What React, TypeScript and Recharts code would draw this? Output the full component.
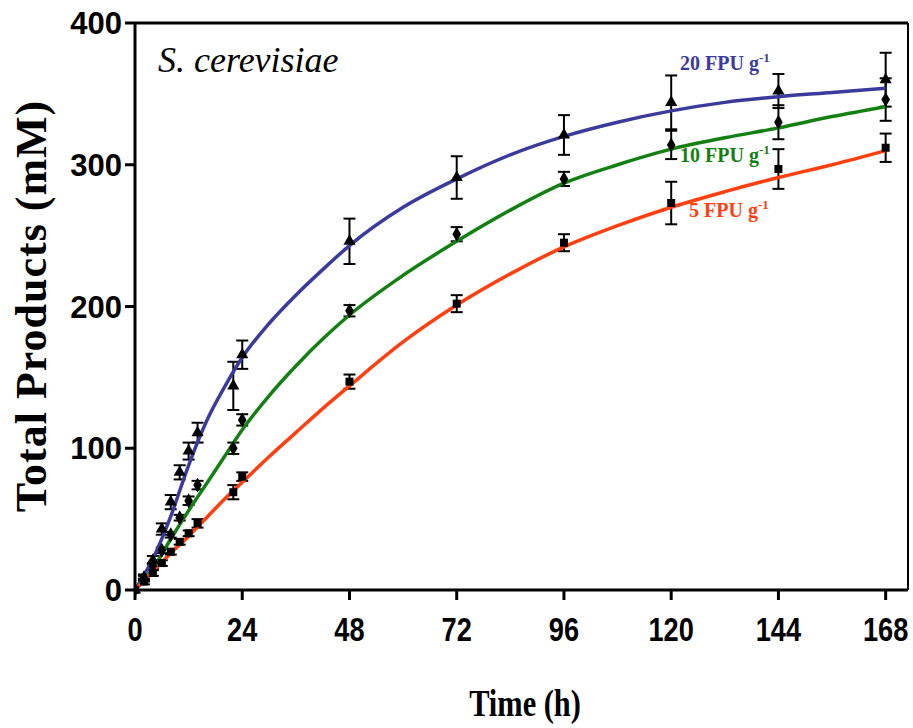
import {
	ComposedChart,
	Line,
	Scatter,
	ErrorBar,
	XAxis,
	YAxis,
	ReferenceLine,
	Customized,
} from "recharts";

// sampling times (h) of the measured points
const hours = [0, 2, 4, 6, 8, 10, 12, 14, 22, 24, 48, 72, 96, 120, 144, 168];

// measured total products (mM) and std. deviations
const fpu20 = [0, 9, 21, 43, 62, 83, 98, 111, 144, 166, 246, 291, 321, 344, 352, 360];
const fpu20Err = [0, 2, 3, 4, 5, 5, 6, 7, 17, 10, 16, 15, 14, 19, 12, 19];
const fpu10 = [0, 8, 17, 28, 39, 51, 63, 74, 100, 120, 197, 251, 290, 314, 330, 346];
const fpu10Err = [0, 2, 2, 2, 2, 2, 3, 3, 4, 4, 4, 5, 5, 10, 12, 15];
const fpu5 = [0, 6, 12, 19, 27, 34, 40, 47, 69, 80, 147, 202, 245, 273, 297, 312];
const fpu5Err = [0, 2, 2, 2, 2, 2, 2, 3, 5, 3, 5, 6, 6, 15, 14, 10];

// fitted curves
const fitHours = [0, 4, 8, 12, 16, 20, 24, 30, 36, 42, 48, 60, 72, 84, 96, 108, 120, 132, 144, 156, 168];
const fit20 = [0, 22, 52, 88, 119, 143, 164, 188, 208, 226, 243, 270, 290, 307, 320, 330, 338, 344, 348, 351, 354];
const fit10 = [0, 15, 36, 56, 75, 94, 113, 137, 158, 177, 194, 222, 246, 268, 287, 300, 311, 319, 326, 334, 341];
const fit5 = [0, 13, 26, 38, 51, 64, 76, 94, 111, 128, 144, 175, 201, 223, 242, 257, 270, 281, 291, 300, 310];

const xTicks = [0, 24, 48, 72, 96, 120, 144, 168];
const yTicks = [0, 100, 200, 300, 400];

const BLUE = "#3b3b9c";
const GREEN = "#148014";
const RED = "#ff3f10";

const points = (vals: number[], errs: number[]) =>
	hours.map((t, i) => ({ t, v: vals[i], err: errs[i] }));
const curve = (vals: number[]) => fitHours.map((t, i) => ({ t, v: vals[i] }));

const serif = "'Liberation Serif', 'Times New Roman', serif";
const sans = "'Liberation Sans', Arial, sans-serif";

// condensed bold labels under the x axis
function NarrowTick(props: any) {
	const { x, y, payload } = props;
	return (
		<text
			transform={`translate(${x} ${y}) scale(0.8 1)`}
			textAnchor="middle"
			dy="0.71em"
			fontFamily={sans}
			fontWeight="bold"
			fontSize={34}
			fill="#000"
		>
			{payload.value}
		</text>
	);
}

function Annotations() {
	return (
		<g>
			<text x={158} y={72} fontFamily={serif} fontStyle="italic" fontSize={36}>
				S. cerevisiae
			</text>
			<text x={680} y={70} fontFamily={serif} fontWeight="bold" fontSize={20} fill={BLUE}>
				20 FPU g<tspan fontSize={13} dy={-8}>-1</tspan>
			</text>
			<text x={680} y={162} fontFamily={serif} fontWeight="bold" fontSize={20} fill={GREEN}>
				10 FPU g<tspan fontSize={13} dy={-8}>-1</tspan>
			</text>
			<text x={689} y={217} fontFamily={serif} fontWeight="bold" fontSize={20} fill={RED}>
				5 FPU g<tspan fontSize={13} dy={-8}>-1</tspan>
			</text>
			<text
				x={46}
				y={306}
				transform="rotate(-90 46 306)"
				textAnchor="middle"
				fontFamily={serif}
				fontWeight="bold"
				fontSize={44}
				letterSpacing={1}
			>
				Total Products (mM)
			</text>
			<text
				transform="translate(525 716) scale(0.8 1)"
				textAnchor="middle"
				fontFamily={serif}
				fontWeight="bold"
				fontSize={38}
			>
				Time (h)
			</text>
		</g>
	);
}

export default function App() {
	return (
		<div style={{ position: "absolute", left: 0, top: 0, background: "#fff" }}>
			<ComposedChart
				width={913}
				height={728}
				margin={{ top: 23, right: 5, left: 0, bottom: 0 }}
			>
				<XAxis
					type="number"
					dataKey="t"
					domain={[0, 173]}
					ticks={xTicks}
					allowDataOverflow
					height={138}
					tickSize={10}
					tickMargin={17}
					axisLine={{ stroke: "#000", strokeWidth: 3 }}
					tickLine={{ stroke: "#000", strokeWidth: 3 }}
					tick={<NarrowTick />}
				/>
				<YAxis
					type="number"
					dataKey="v"
					domain={[0, 400]}
					ticks={yTicks}
					width={135}
					tickSize={10}
					tickMargin={3}
					axisLine={{ stroke: "#000", strokeWidth: 3 }}
					tickLine={{ stroke: "#000", strokeWidth: 3 }}
					tick={{ fill: "#000", fontFamily: sans, fontWeight: "bold", fontSize: 31 }}
				/>
				<ReferenceLine y={400} stroke="#000" strokeWidth={3} ifOverflow="visible" />
				<ReferenceLine x={173} stroke="#000" strokeWidth={2} ifOverflow="visible" />

				<Scatter data={points(fpu20, fpu20Err)} dataKey="v" shape="triangle" fill="#000" isAnimationActive={false}>
					<ErrorBar dataKey="err" direction="y" width={6} stroke="#000" strokeWidth={2} />
				</Scatter>
				<Scatter data={points(fpu10, fpu10Err)} dataKey="v" shape="diamond" fill="#000" isAnimationActive={false}>
					<ErrorBar dataKey="err" direction="y" width={6} stroke="#000" strokeWidth={2} />
				</Scatter>
				<Scatter data={points(fpu5, fpu5Err)} dataKey="v" shape="square" fill="#000" isAnimationActive={false}>
					<ErrorBar dataKey="err" direction="y" width={6} stroke="#000" strokeWidth={2} />
				</Scatter>

				<Line data={curve(fit20)} dataKey="v" type="monotone" stroke={BLUE} strokeWidth={3.5} dot={false} isAnimationActive={false} />
				<Line data={curve(fit10)} dataKey="v" type="monotone" stroke={GREEN} strokeWidth={3.5} dot={false} isAnimationActive={false} />
				<Line data={curve(fit5)} dataKey="v" type="monotone" stroke={RED} strokeWidth={3.5} dot={false} isAnimationActive={false} />

				<Customized component={Annotations} />
			</ComposedChart>
		</div>
	);
}
